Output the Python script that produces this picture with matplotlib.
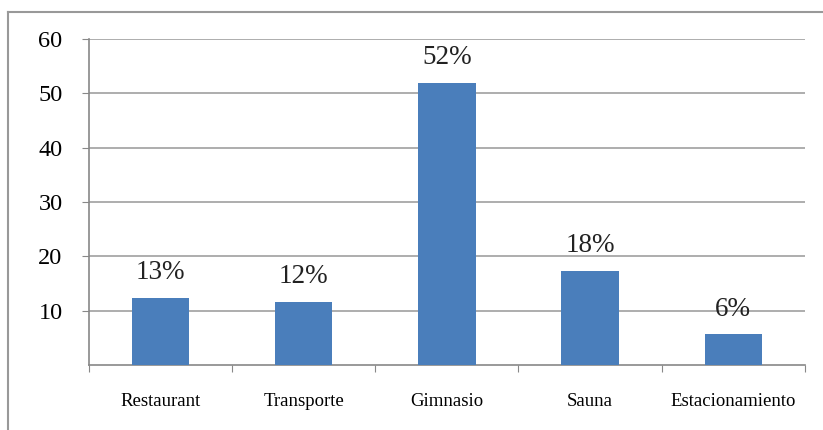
import matplotlib
matplotlib.use("Agg")
from matplotlib import pyplot as plt
from matplotlib.lines import Line2D

categorias = ["Restaurant", "Transporte", "Gimnasio", "Sauna", "Estacionamiento"]
valores = [12.4, 11.7, 52.0, 17.4, 5.7]
etiquetas = ["13%", "12%", "52%", "18%", "6%"]
yticks = [10, 20, 30, 40, 50, 60]

plt.rcParams['font.family'] = ['Liberation Serif', 'DejaVu Serif']

fig = plt.figure(figsize=(8.23, 4.30), dpi=100)
ax = fig.add_axes([0.108, 0.151, 0.870, 0.758])

x = list(range(len(categorias)))
ax.bar(x, valores, width=0.4, color='#4a7ebb', zorder=3)
ax.set_xlim(-0.5, len(categorias) - 0.5)
ax.set_ylim(0, 60)

for xi, v, lab in zip(x, valores, etiquetas):
    ax.annotate(lab, (xi, v), xytext=(0, 9), textcoords='offset points',
                ha='center', va='bottom', fontsize=19.5, color='#222222')

ax.set_yticks(yticks)
ax.set_yticklabels([str(t) for t in yticks], fontsize=17.5)
ax.yaxis.grid(True, color='#a0a0a0', linewidth=1.2, zorder=0)
ax.tick_params(axis='y', length=5, color='#888888', pad=14)

# category boundaries as ticks, names as minor labels
ax.set_xticks([i - 0.5 for i in range(len(categorias) + 1)])
ax.set_xticklabels([])
ax.set_xticks(x, minor=True)
ax.set_xticklabels(categorias, minor=True, fontsize=13.5)
ax.tick_params(axis='x', which='major', length=5, color='#888888', direction='out')
ax.tick_params(axis='x', which='minor', length=0, pad=20)

for s in ['top', 'right']:
    ax.spines[s].set_visible(False)
for s in ['left', 'bottom']:
    ax.spines[s].set_color('#888888')
    ax.spines[s].set_linewidth(1.2)

# outer chart border (top and left)
fig.add_artist(Line2D([0.010, 0.010], [0.0, 0.972], transform=fig.transFigure,
                      color='#999999', linewidth=1.5))
fig.add_artist(Line2D([0.010, 1.0], [0.972, 0.972], transform=fig.transFigure,
                      color='#999999', linewidth=1.5))

fig.savefig("out.png", dpi=100)
